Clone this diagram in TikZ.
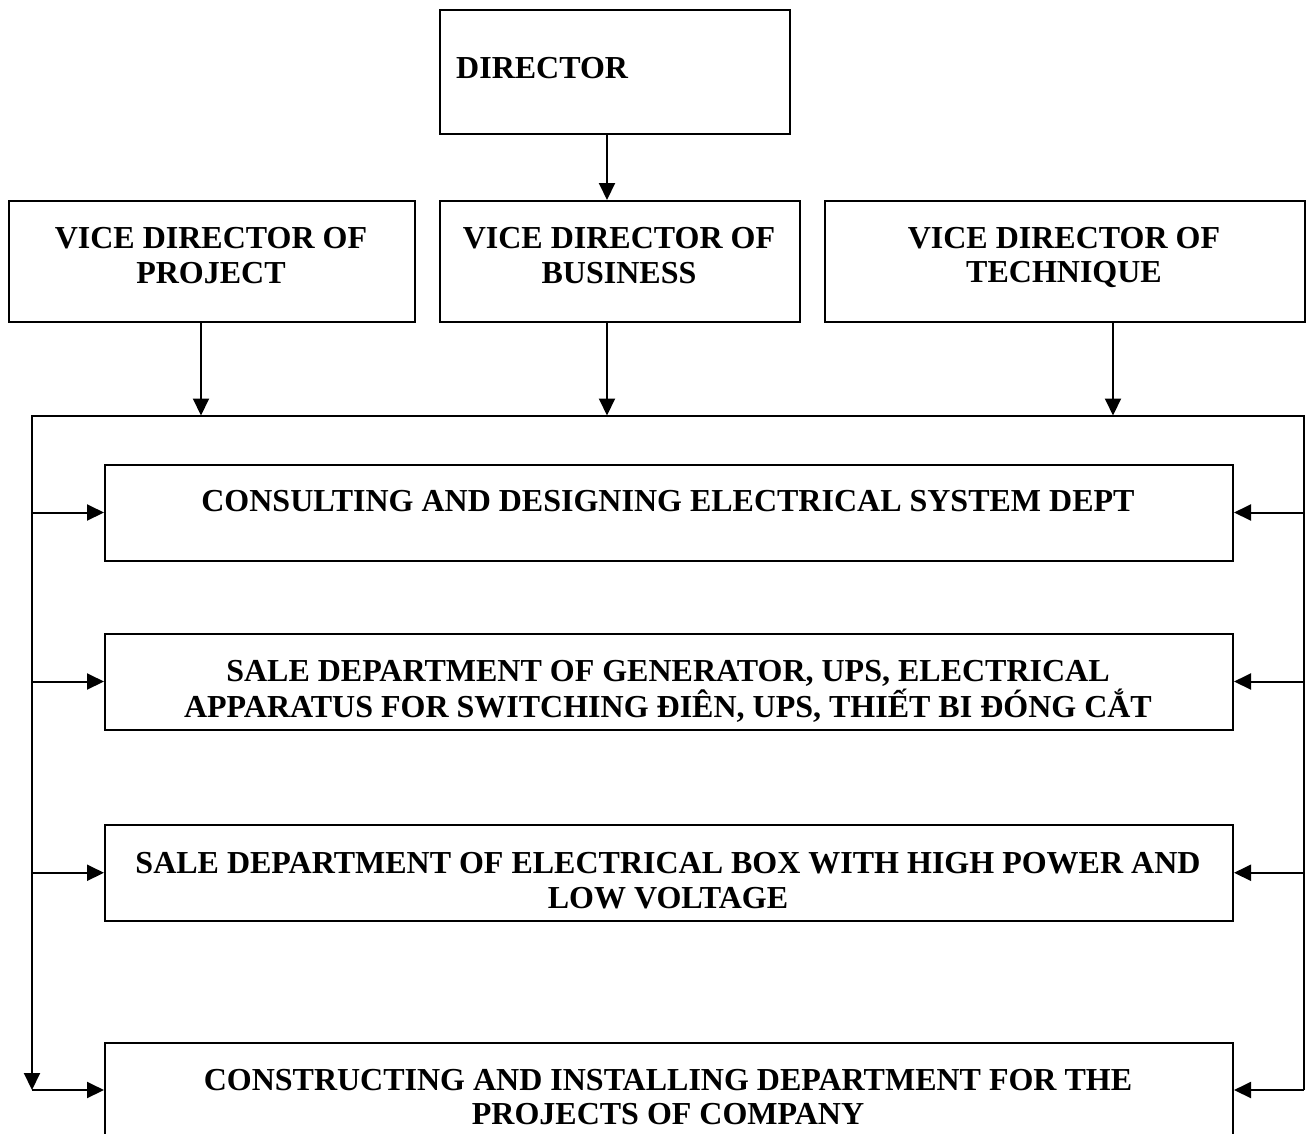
\documentclass[tikz,border=0pt]{standalone}
\usepackage{fontspec}
\setmainfont{Liberation Serif}
\usetikzlibrary{arrows.meta}
\begin{document}
\begin{tikzpicture}[x=1pt,y=1pt,
  box/.style={draw, line width=2pt, rectangle, inner sep=0pt, anchor=north west},
  lbl/.style={anchor=base, inner sep=0pt, font=\bfseries\fontsize{32}{35}\selectfont},
  arr/.style={line width=2pt, -{Triangle[length=17pt,width=16pt]}},
  ln/.style={line width=2pt}]
\clip (0,0) rectangle (1306,-1133);
% boxes
\node[box, minimum width=350pt, minimum height=124pt] (dir) at (439,-9) {};
\node[box, minimum width=406pt, minimum height=121pt] (vdp) at (8,-200) {};
\node[box, minimum width=360pt, minimum height=121pt] (vdb) at (439,-200) {};
\node[box, minimum width=480pt, minimum height=121pt] (vdt) at (824,-200) {};
\node[box, minimum width=1128pt, minimum height=96pt] (d1) at (104,-463.5) {};
\node[box, minimum width=1128pt, minimum height=96pt] (d2) at (104,-632.5) {};
\node[box, minimum width=1128pt, minimum height=95.5pt] (d3) at (104,-824) {};
\node[box, minimum width=1128pt, minimum height=94pt] (d4) at (104,-1042) {};
% texts
\node[lbl, anchor=base west] (tdir) at (456,-78.3) {DIRECTOR};
\node[lbl] (tp1) at (211,-248) {VICE DIRECTOR OF};
\node[lbl] (tp2) at (211,-283) {PROJECT};
\node[lbl] (tb1) at (619,-248) {VICE DIRECTOR OF};
\node[lbl] (tb2) at (619,-283) {BUSINESS};
\node[lbl] (tt1) at (1064,-248) {VICE DIRECTOR OF};
\node[lbl] (tt2) at (1064,-282) {TECHNIQUE};
\node[lbl] (t1) at (668,-511.7) {CONSULTING AND DESIGNING ELECTRICAL SYSTEM DEPT};
\node[lbl] (t2a) at (668,-681.7) {SALE DEPARTMENT OF GENERATOR, UPS, ELECTRICAL};
\node[lbl] (t2b) at (668,-717) {APPARATUS FOR SWITCHING ĐIÊN, UPS, THIẾT BI ĐÓNG CẮT};
\node[lbl] (t3a) at (668,-873.3) {SALE DEPARTMENT OF ELECTRICAL BOX WITH HIGH POWER AND};
\node[lbl] (t3b) at (668,-908.5) {LOW VOLTAGE};
\node[lbl] (t4a) at (668,-1090) {CONSTRUCTING AND INSTALLING DEPARTMENT FOR THE};
\node[lbl] (t4b) at (668,-1124) {PROJECTS OF COMPANY};
% frame coordinates
\coordinate (TL) at (32,-415.5);
\coordinate (TR) at (1304,-415.5);
\coordinate (xp) at (201,0);
\coordinate (xb) at (607,0);
\coordinate (xt) at (1113,0);
% connectors
\draw[arr] (dir.south -| xb) -- (vdb.north -| xb);
\draw[arr] (vdp.south -| xp) -- (TL -| xp);
\draw[arr] (vdb.south -| xb) -- (TL -| xb);
\draw[arr] (vdt.south -| xt) -- (TL -| xt);
\draw[arr] (d4.east -| TR) -- (TR) -- (TL) -- (d4.west -| TL);
\draw[arr] (d1.west -| TL) -- (d1.west);
\draw[arr] (d2.west -| TL) -- (d2.west);
\draw[arr] (d3.west -| TL) -- (d3.west);
\draw[arr] (d4.west -| TL) -- (d4.west);
\draw[arr] (d1.east -| TR) -- (d1.east);
\draw[arr] (d2.east -| TR) -- (d2.east);
\draw[arr] (d3.east -| TR) -- (d3.east);
\draw[arr] (d4.east -| TR) -- (d4.east);
\end{tikzpicture}
\end{document}
